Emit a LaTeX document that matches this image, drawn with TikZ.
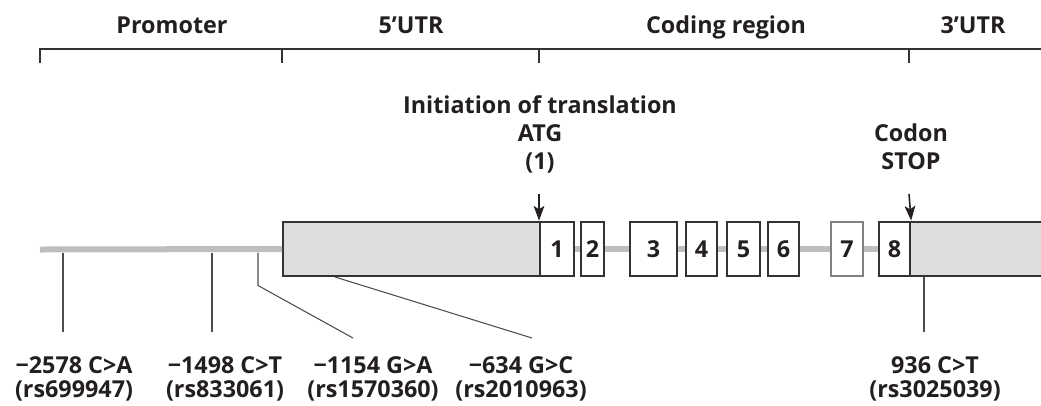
\documentclass[tikz,border=0pt]{standalone}
\usepackage{fontspec}
\setmainfont{Open Sans}
\usetikzlibrary{arrows.meta}
\definecolor{ink}{HTML}{231F20}
\definecolor{edge}{HTML}{333333}
\definecolor{backbone}{HTML}{BDBEC0}
\definecolor{utrfill}{HTML}{DCDDDE}
\definecolor{leadgrey}{HTML}{4D4D4F}

\begin{document}
\begin{tikzpicture}[x=0.75pt,y=-0.75pt,
	every node/.style={text=ink,font=\bfseries\fontsize{17.5}{21}\selectfont},
	region/.style={anchor=base,inner sep=0pt},
	bracket/.style={draw=edge,line width=1.2pt},
	exon/.style={draw=edge,line width=1.6pt,fill=white,minimum height=41pt,inner sep=0pt,anchor=west},
	utr/.style={exon,fill=utrfill},
	intron/.style={draw=backbone,line width=4.5pt},
	pointer/.style={draw=ink,line width=1.2pt,-{Stealth[length=11pt,width=8pt,inset=2.5pt]}},
	note/.style={anchor=north,align=center,inner sep=0pt},
	snp/.style={anchor=north,align=center,inner xsep=0pt,inner ysep=18pt,
		font=\bfseries\fontsize{17.5}{18}\selectfont},
	lead/.style={draw=leadgrey,line width=0.8pt}]
\useasboundingbox (0,0) rectangle (1041,405);

% regions of the gene
\node[region] (prom) at (172,33) {Promoter};
\node[region] (utrfive) at (411,33) {5’UTR};
\node[region] (coding) at (726,33) {Coding region};
\node[region] (utrthree) at (973,33) {3’UTR};
\draw[bracket] (40,63) -- (40,49) -- (1041,49);
\foreach \x in {282,539,909}
	\draw[bracket] (\x,49) -- (\x,63);

% gene structure
\coordinate (start) at (40,249.5);
\node[utr,minimum width=257*0.75pt] (utr5) at (282,249) {};
\foreach \n/\a/\b/\c in {1/539/573/edge,2/580/603/edge,3/629/676/edge,4/685/716/edge,
	5/726/759/edge,6/767/798/edge,7/830/862/gray,8/878/909/edge}
{
	\node[exon,draw=\c,minimum width={(\b-\a)*0.75pt}] (e\n) at (\a,249) {\n};
}
\node[utr,minimum width=140*0.75pt] (utr3) at (909,249) {};
\draw[intron] (start) -- (utr5.west);
\foreach \a/\b in {1/2,2/3,3/4,4/5,5/6,6/7,7/8}
	\draw[intron] (e\a.east) -- (e\b.west);

% start and stop
\node[note] (atg) at (540,95) {Initiation of translation\\ATG\\(1)};
\node[note] (stop) at (911,123) {Codon\\STOP};
\coordinate (atgtop) at (539,194);
\coordinate (stoptop) at (909,194);
\draw[pointer] (atgtop) -- (e1.north west);
\draw[pointer] (stoptop) -- (e8.north east);

% polymorphisms
\coordinate (s1) at (63,252.5);
\coordinate (s2) at (212,252.5);
\coordinate (s3) at (258,252.5);
\coordinate (s4) at (335,277);
\coordinate (s5) at (924,277);
\node[snp] (lab1) at (74,332) {−2578 C>A\\(rs699947)};
\node[snp] (lab2) at (225,332) {−1498 C>T\\(rs833061)};
\node[snp] (lab3) at (373,332) {−1154 G>A\\(rs1570360)};
\node[snp] (lab4) at (521,332) {−634 G>C\\(rs2010963)};
\node[snp] (lab5) at (935,332) {936 C>T\\(rs3025039)};
\draw[lead] (s1) -- (lab1.north -| s1);
\draw[lead] (s2) -- (lab2.north -| s2);
\draw[lead] (s3) -- ++(0,33) -- ([shift={(-20,6)}]lab3.north);
\draw[lead] (s4) -- ([shift={(11,6)}]lab4.north);
\draw[lead] (s5) -- (lab5.north -| s5);
\end{tikzpicture}
\end{document}
